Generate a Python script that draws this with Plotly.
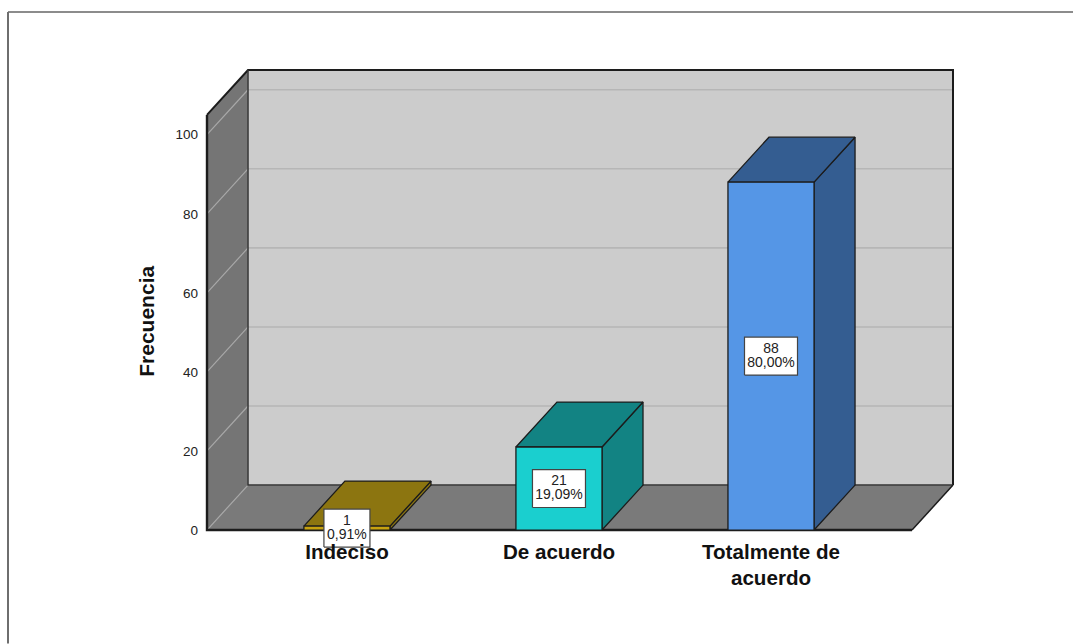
import plotly.graph_objects as go

# --- data ---
categories = ["Indeciso", "De acuerdo", "Totalmente de<br>acuerdo"]
counts = [1, 21, 88]
percents = ["0,91%", "19,09%", "80,00%"]
front_colors = ["#C7A20F", "#1ACFCF", "#5596E6"]
top_colors = ["#8C7510", "#128383", "#345D91"]
y_ticks = [0, 20, 40, 60, 80, 100]
y_title = "Frecuencia"

# --- 3D projection constants (in axis units) ---
W, H = 1073, 644
L, R, T, B = 207, 912, 115, 530.5      # front plane, in page pixels
DEPTH_X, DEPTH_Y = 41, 45
X_MIN, X_MAX = -0.66, 2.665
Y_MAX = 105
SX = (X_MAX - X_MIN) / (R - L)         # axis units per pixel
SY = Y_MAX / (B - T)
DX, DY = DEPTH_X * SX, DEPTH_Y * SY    # depth offset
PAD = 4                                # room so that outer edges are not clipped
PAD_B = 30                             # room for the box of the shortest bar
HALF = 0.203
BOX_HALF_H = 19 * SY
LINE_OFF = 7 * SY
EDGE = "#1c1c1c"

# plot area in pixels
PL, PR, PT, PB = L - PAD, R + DEPTH_X + PAD, T - DEPTH_Y - PAD, B + PAD_B

fig = go.Figure()


def poly(xs, ys, fill=None, line=EDGE, width=1.5):
    closed = fill is not None
    fig.add_trace(go.Scatter(
        x=list(xs) + ([xs[0]] if closed else []),
        y=list(ys) + ([ys[0]] if closed else []),
        mode="lines", fill="toself" if closed else None,
        fillcolor=fill, line=dict(color=line, width=width),
        hoverinfo="skip", showlegend=False,
    ))


def px(x):
    return (x - PL) / (PR - PL)


def py(y):
    return (PB - y) / (PB - PT)


def label(x, y, text):
    fig.add_trace(go.Scatter(
        x=[x], y=[y], mode="text", text=[text], textposition="middle center",
        textfont=dict(family="Liberation Sans", size=14, color="#222222"),
        cliponaxis=False, hoverinfo="skip", showlegend=False,
    ))


# walls
poly([X_MIN, X_MIN + DX, X_MIN + DX, X_MIN], [0, DY, Y_MAX + DY, Y_MAX], "#757575", "#757575", 0.5)
poly([X_MIN, X_MAX, X_MAX + DX, X_MIN + DX], [0, 0, DY, DY], "#7A7A7A", "#7A7A7A", 0.5)
poly([X_MIN + DX, X_MAX + DX, X_MAX + DX, X_MIN + DX], [DY, DY, Y_MAX + DY, Y_MAX + DY], "#CCCCCC", "#CCCCCC", 0.5)

# gridlines
for v in y_ticks:
    poly([X_MIN, X_MIN + DX], [v, v + DY], None, "#A8A8A8", 1.2)
    if v:
        poly([X_MIN + DX, X_MAX + DX], [v + DY, v + DY], None, "#B6B6B6", 1.6)

# frame edges
poly([X_MIN, X_MIN + DX, X_MAX + DX, X_MAX + DX], [Y_MAX, Y_MAX + DY, Y_MAX + DY, DY], None, EDGE, 2)
poly([X_MIN + DX, X_MIN + DX, X_MAX + DX], [Y_MAX + DY, DY, DY], None, "#333333", 1.5)
poly([X_MAX, X_MAX + DX], [0, DY], None, EDGE, 1.5)
poly([X_MIN, X_MIN, X_MAX], [Y_MAX, 0, 0], None, EDGE, 2.4)

# bars
for i, v in enumerate(counts):
    x0, x1 = i - HALF, i + HALF
    poly([x1, x1 + DX, x1 + DX, x1], [0, DY, v + DY, v], top_colors[i], EDGE, 1.3)
    poly([x0, x1, x1 + DX, x0 + DX], [v, v, v + DY, v + DY], top_colors[i], EDGE, 1.3)
    poly([x0, x1, x1, x0], [0, 0, v, v], front_colors[i], EDGE, 1.3)

# data label boxes
for i, (v, p) in enumerate(zip(counts, percents)):
    half_w = len(p) * 0.0165 + 0.026
    poly([i - half_w, i + half_w, i + half_w, i - half_w],
         [v / 2 - BOX_HALF_H, v / 2 - BOX_HALF_H, v / 2 + BOX_HALF_H, v / 2 + BOX_HALF_H],
         "#FFFFFF", "#444444", 1.2)
    label(i, v / 2 + LINE_OFF, str(v))
    label(i, v / 2 - LINE_OFF, p)

fig.update_layout(
    width=W, height=H,
    margin=dict(l=PL, r=W - PR, t=PT, b=H - PB, pad=0),
    paper_bgcolor="#FFFFFF", plot_bgcolor="rgba(0,0,0,0)",
    showlegend=False,
    shapes=[
        dict(type="line", xref="paper", yref="paper",
             x0=px(8), x1=px(W), y0=py(12), y1=py(12),
             line=dict(color="#8C8C8C", width=2)),
        dict(type="line", xref="paper", yref="paper",
             x0=px(8), x1=px(8), y0=py(12), y1=py(H),
             line=dict(color="#6E6E6E", width=2)),
    ],
    annotations=[
        dict(text=y_title, xref="paper", yref="paper", x=px(147), y=py(322),
             textangle=-90, showarrow=False, xanchor="center", yanchor="middle",
             font=dict(family="Liberation Sans", size=21, weight="bold", color="#111111")),
    ],
)
fig.update_xaxes(
    range=[X_MIN - PAD * SX, X_MAX + DX + PAD * SX], tickmode="array",
    tickvals=list(range(len(categories))),
    ticktext=categories, showgrid=False, zeroline=False, showline=False, ticks="",
    ticklabelstandoff=3, anchor="free", position=py(B + 4),
    tickfont=dict(family="Liberation Sans", size=20.6, weight="bold", color="#111111"),
)
fig.update_yaxes(
    range=[-PAD_B * SY, Y_MAX + DY + PAD * SY], tickmode="array", tickvals=y_ticks,
    showgrid=False, zeroline=False, showline=False, ticks="", ticklabelstandoff=4,
    tickfont=dict(family="Liberation Sans", size=13.5, color="#222222"),
)

fig.write_html("out.html", config={"displayModeBar": False},
               post_script="document.body.style.margin='0';document.body.style.overflow='hidden';")
